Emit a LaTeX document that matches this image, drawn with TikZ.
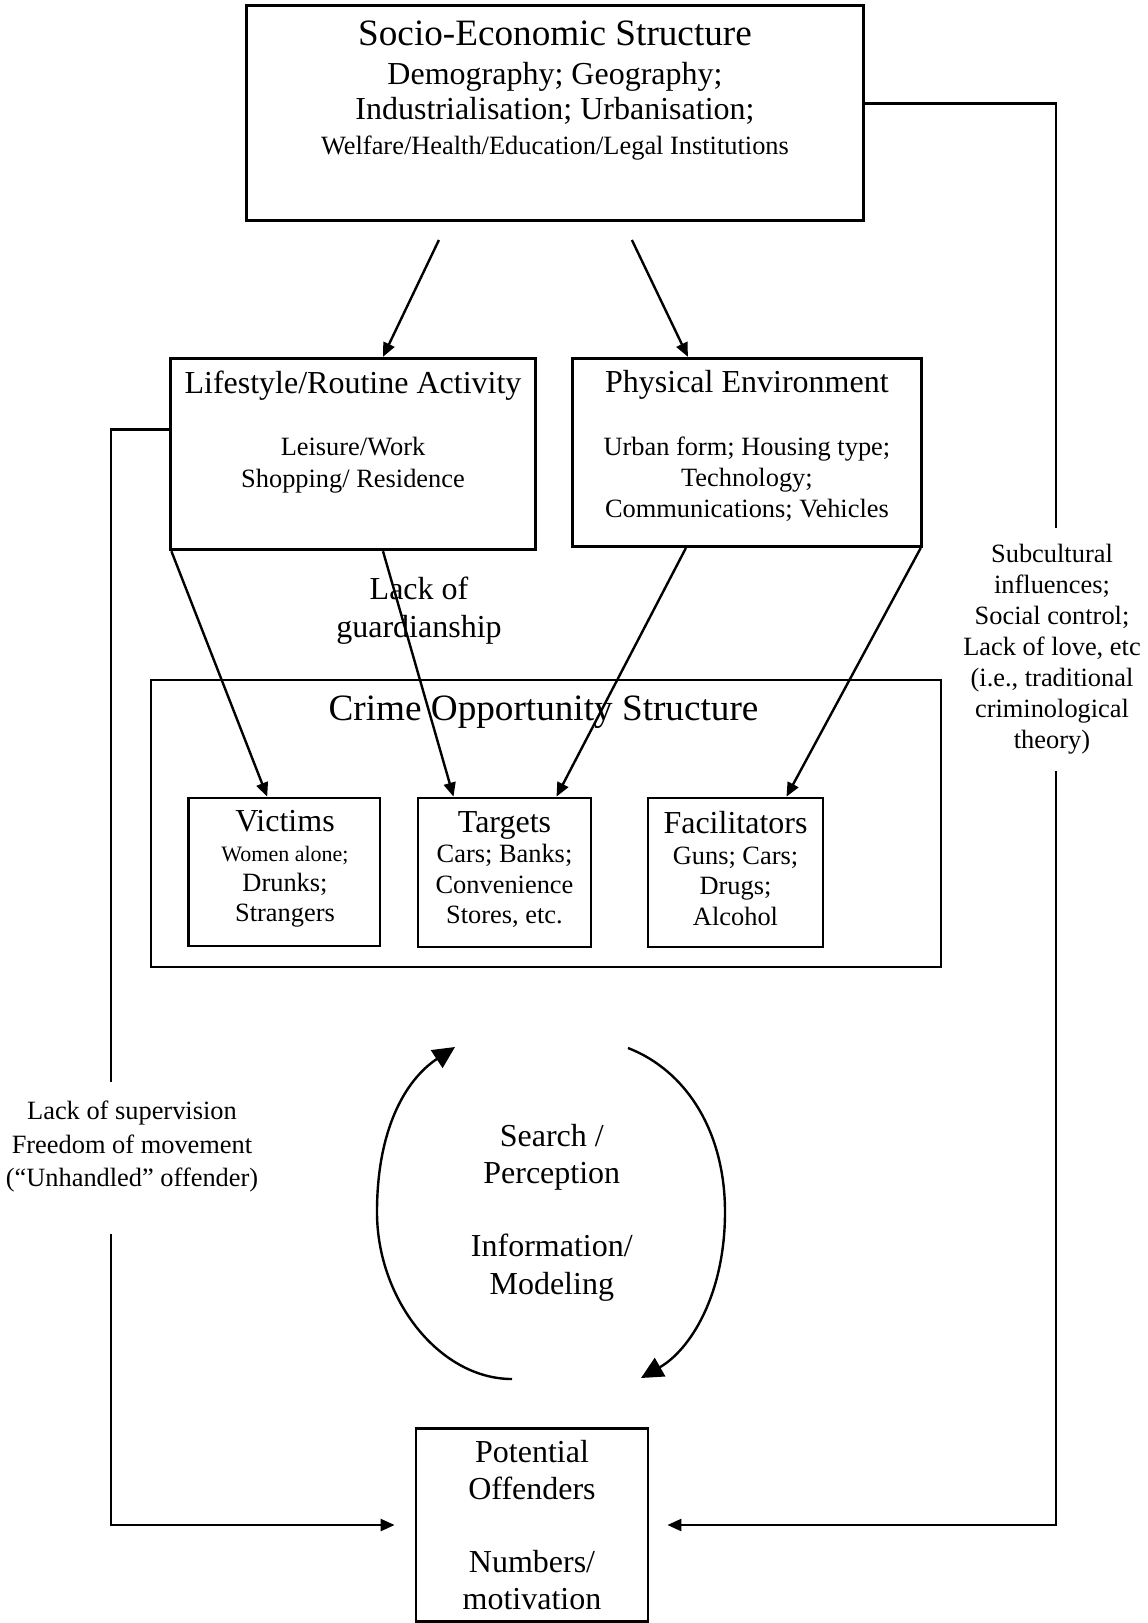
\documentclass[tikz,border=0pt]{standalone}
\usepackage{fontspec}
\setmainfont{Liberation Serif}
\usetikzlibrary{arrows.meta, calc}
\newcommand{\fbig}{\fontsize{18.6}{20}\selectfont}
\newcommand{\fmid}{\fontsize{16}{17.5}\selectfont}
\newcommand{\fsmall}{\fontsize{13.2}{15.5}\selectfont}
\newcommand{\ftiny}{\fontsize{11}{15}\selectfont}

\begin{document}
\begin{tikzpicture}[x=0.5pt, y=-0.5pt,
  box/.style={draw, line width=1.4pt, inner sep=0pt},
  txt/.style={align=center, inner sep=0pt},
  conn/.style={line width=1.2pt},
  arr/.style={conn, -{Triangle[length=7pt, width=6pt]}},
  cyc/.style={line width=1.2pt, -{Triangle[length=11pt, width=10.5pt]}}]
  \useasboundingbox (0,0) rectangle (1147,1623);
  % Boxes
  \node[box, minimum width=308.5pt, minimum height=107.7pt] (socio) at (554.9,112.9) {};
  \node[box, minimum width=182.2pt, minimum height=95.8pt] (life) at (353,454) {};
  \node[box, minimum width=174.4pt, minimum height=94.2pt] (phys) at (746.9,452.4) {};
  \node[box, minimum width=395pt, minimum height=143.5pt] (crime) at (546,823.5) {};
  \node[box, minimum width=95.8pt, minimum height=74pt] (victims) at (284.2,872) {};
  \node[box, minimum width=86.5pt, minimum height=74.5pt] (targets) at (504.5,872.5) {};
  \node[box, minimum width=87.5pt, minimum height=74.5pt] (facil) at (735.5,872.5) {};
  \node[box, txt, minimum width=116pt, minimum height=96.2pt, font=\fontsize{16}{18.65}\selectfont] (off) at (532,1525)
    {Potential\\ Offenders\\[17.5pt] Numbers/\\ motivation};
  % Box texts
  \node[txt, font=\fmid] (socioText) at (555,90.4)
    {{\fbig Socio-Economic Structure}\\[2pt] Demography; Geography;\\ Industrialisation; Urbanisation;\\ {\fsmall Welfare/Health/Education/Legal Institutions}};
  \node[txt, font=\fontsize{13.2}{16}\selectfont] (lifeText) at (353,431.7)
    {{\fmid Lifestyle/Routine Activity}\\[15pt] Leisure/Work\\ Shopping/ Residence};
  \node[txt, font=\fsmall] (physText) at (746.9,445.8)
    {{\fmid Physical Environment}\\[16pt] Urban form; Housing type;\\ Technology;\\ Communications; Vehicles};
  \node[txt, font=\fbig] (crimeTitle) at (543.5,711.8) {Crime Opportunity Structure};
  \node[txt, font=\fontsize{13.2}{15}\selectfont] (victimsText) at (285,868.7)
    {{\fmid Victims}\\ {\ftiny Women alone;}\\ Drunks;\\ Strangers};
  \node[txt, font=\fontsize{13.2}{15.25}\selectfont] (targetsText) at (504.5,869.6)
    {{\fmid Targets}\\ Cars; Banks;\\ Convenience\\ Stores, etc.};
  \node[txt, font=\fontsize{13.2}{15.25}\selectfont] (facilText) at (735.5,868.5)
    {{\fmid Facilitators}\\ Guns; Cars;\\ Drugs;\\ Alcohol};
  % Free labels
  \node[txt, font=\fontsize{16}{19}\selectfont] (guard) at (419,610.2) {Lack of\\ guardianship};
  \node[txt, font=\fontsize{16}{18.6}\selectfont] (search) at (551.8,1212.6)
    {Search /\\ Perception\\[18pt] Information/\\ Modeling};
  \node[txt, font=\fontsize{13.2}{16.5}\selectfont] (superv) at (132,1146.5)
    {Lack of supervision\\ Freedom of movement\\ (“Unhandled” offender)};
  \node[txt, font=\fsmall] (subcult) at (1052,648.7)
    {Subcultural\\ influences;\\ Social control;\\ Lack of love, etc\\ (i.e., traditional\\ criminological\\ theory)};
  % Structure -> lifestyle / environment
  \draw[arr] ($(socio.south)+(-116,18)$) -- ($(life.north)+(30,0)$);
  \draw[arr] ($(socio.south)+(77,18)$) -- ($(phys.north)+(-59,0)$);
  % Lifestyle / environment -> opportunities
  \draw[arr] ($(life.south west)+(2,0)$) -- ($(victims.north)+(-17,0)$);
  \draw[arr] ($(life.south)+(30,0)$) -- ($(targets.north)+(-51,0)$);
  \draw[arr] ($(phys.south)+(-61,0)$) -- ($(targets.north)+(52,0)$);
  \draw[arr] ($(phys.south east)+(-2,0)$) -- ($(facil.north)+(51,0)$);
  % Left feedback line
  \coordinate (lsupTop) at (110.8,1081.8);
  \coordinate (lsupBot) at (110.8,1234);
  \draw[conn] ($(life.west)+(0,-24.4)$) -| (lsupTop);
  \draw[arr] (lsupBot) |- ([xshift=-10pt]off.west);
  % Right feedback line
  \coordinate (subTop) at (1056,528);
  \coordinate (subBot) at (1056,771);
  \draw[conn] ($(socio.east)+(0,-9.4)$) -| (subTop);
  \draw[arr] (subBot) |- ([xshift=9pt]off.east);
  % Search cycle
  \draw[cyc] (512,1379) .. controls (440,1379) and (377,1300) .. (377,1212)
    .. controls (377,1130) and (405,1080) .. (455,1047);
  \draw[cyc] (628,1048) .. controls (685,1070) and (725,1130) .. (725,1212)
    .. controls (725,1295) and (690,1350) .. (641,1378);
\end{tikzpicture}
\end{document}
